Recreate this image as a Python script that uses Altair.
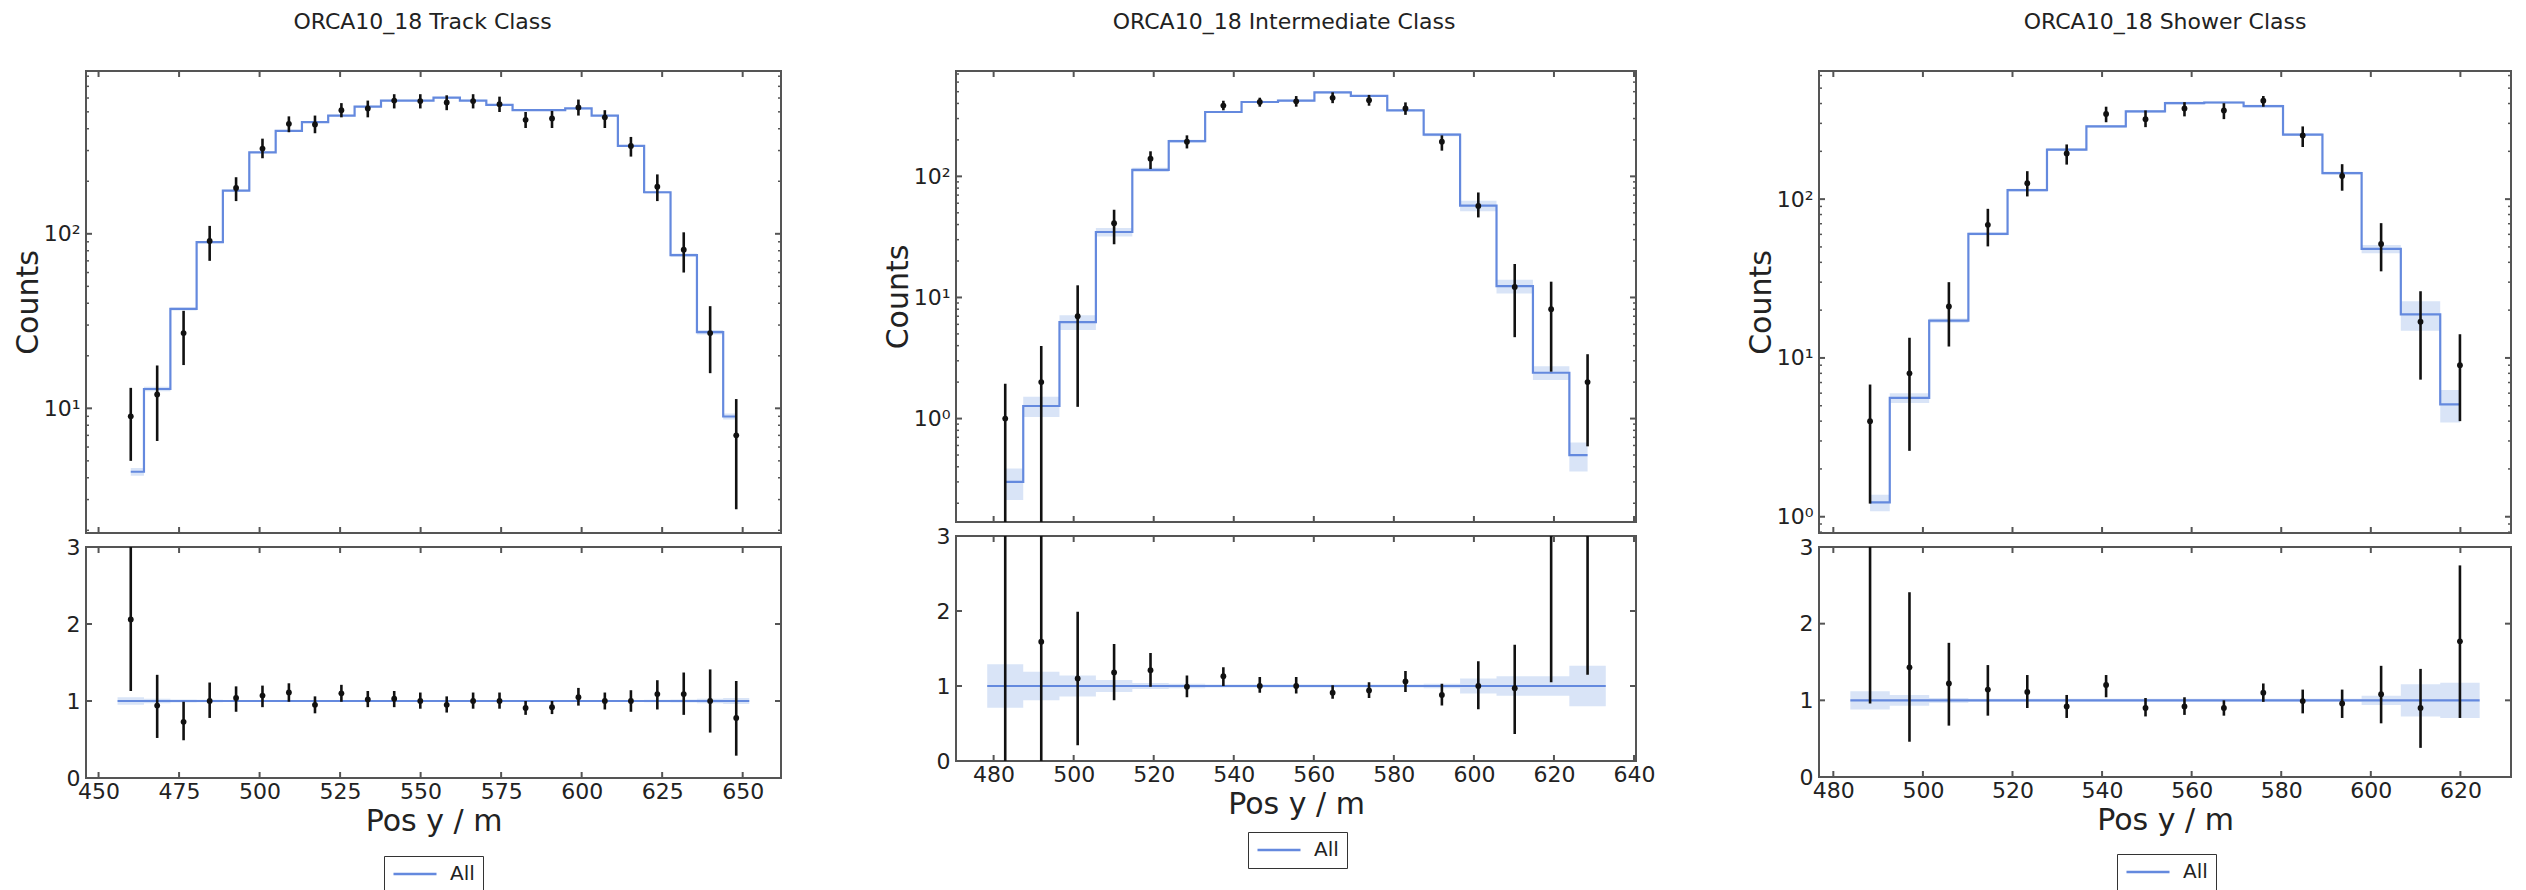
import altair as alt
import pandas as pd

FONT = "DejaVu Sans"
BLUE = "#6489de"
BAND = "#d5e1f6"
INK = "#111111"
FRAME = "#555555"
TXT = "#222222"

# ---------------- Track class ----------------
trk_title = "ORCA10_18 Track Class"
trk_x = [460.0, 468.2, 476.4, 484.5, 492.7, 500.9, 509.1, 517.2, 525.4, 533.6, 541.8, 549.9,
         558.1, 566.3, 574.5, 582.6, 590.8, 599.0, 607.2, 615.3, 623.5, 631.7, 639.9, 648.0]
trk_data = [9, 12, 27, 91, 183, 308, 427, 423, 511, 523, 580, 576,
            566, 576, 553, 450, 458, 530, 465, 319, 186, 81, 27, 7]
trk_lo = [5.0, 6.5, 17.7, 70, 154, 271, 382, 377, 465, 465, 523, 523,
          511, 523, 499, 404, 404, 476, 404, 277, 154, 60, 15.9, 2.64]
trk_hi = [13.1, 17.6, 36.2, 111, 211, 351, 471, 476, 561, 580, 631, 631,
          622, 631, 611, 499, 506, 588, 511, 359, 219, 102, 38.5, 11.3]
trk_mc = [4.33, 12.9, 37.1, 89.7, 177, 293, 389, 437, 476, 536, 580, 580,
          603, 580, 548, 511, 511, 523, 476, 319, 173, 75.5, 27.3, 8.98]
trk_rel = [0.05, 0.03, 0.02, 0.015, 0.01, 0.01, 0.01, 0.01, 0.01, 0.01, 0.01, 0.01,
           0.01, 0.01, 0.01, 0.01, 0.01, 0.01, 0.01, 0.01, 0.015, 0.02, 0.03, 0.04]
trk_ratio = [2.06, 0.94, 0.73, 1.00, 1.04, 1.07, 1.11, 0.95, 1.10, 1.02, 1.03, 1.00,
             0.95, 1.00, 1.00, 0.91, 0.92, 1.05, 1.00, 1.00, 1.09, 1.09, 1.00, 0.78]
trk_rlo = [1.13, 0.52, 0.49, 0.78, 0.86, 0.92, 0.99, 0.84, 0.99, 0.92, 0.92, 0.90,
           0.85, 0.90, 0.90, 0.82, 0.83, 0.94, 0.89, 0.86, 0.89, 0.82, 0.59, 0.29]
trk_rhi = [3.5, 1.34, 0.99, 1.24, 1.19, 1.20, 1.23, 1.06, 1.21, 1.13, 1.13, 1.11,
           1.06, 1.11, 1.11, 1.00, 1.00, 1.17, 1.11, 1.14, 1.27, 1.37, 1.41, 1.26]
trk_xdom = [446.1, 661.9]
trk_ydom = [1.93, 857]
trk_xticks = [450, 475, 500, 525, 550, 575, 600, 625, 650]
trk_yticks = [10, 100]

# ---------------- Intermediate class ----------------
int_title = "ORCA10_18 Intermediate Class"
int_x = [482.9, 491.9, 501.0, 510.1, 519.2, 528.3, 537.4, 546.5, 555.6, 564.7, 573.8,
         582.9, 592.0, 601.1, 610.2, 619.3, 628.4]
int_data = [1.0, 2.0, 7.0, 41, 140, 193, 384, 411, 416, 445, 425, 363, 193, 57, 12.2, 8.0, 2.0]
int_lo = [0.01, 0.01, 1.25, 27.5, 115, 170, 351, 376, 376, 402, 383, 322, 163, 45.8, 4.7, 2.44, 0.59]
int_hi = [1.94, 3.97, 12.6, 53, 161, 218, 421, 446, 460, 494, 470, 408, 218, 73.6, 18.9, 13.5, 3.4]
int_mc = [0.30, 1.27, 6.25, 34.7, 113, 195, 340, 411, 422, 493, 461, 351, 221, 57.3, 12.4, 2.39, 0.50]
int_rel = [0.29, 0.19, 0.14, 0.08, 0.04, 0.03, 0.02, 0.02, 0.02, 0.02, 0.02, 0.02, 0.03,
           0.10, 0.13, 0.13, 0.27]
int_ratio = [3.3, 1.59, 1.10, 1.18, 1.21, 0.99, 1.13, 1.00, 1.00, 0.91, 0.94, 1.06, 0.88,
             1.00, 0.97, 3.35, 4.0]
int_rlo = [0.0, 0.0, 0.21, 0.81, 0.99, 0.85, 1.00, 0.91, 0.90, 0.83, 0.84, 0.92, 0.74,
           0.69, 0.36, 1.05, 1.15]
int_rhi = [6.5, 4.0, 1.99, 1.56, 1.44, 1.14, 1.25, 1.12, 1.12, 1.01, 1.05, 1.20, 1.03,
           1.33, 1.55, 5.6, 6.8]
int_xdom = [470.6, 640.5]
int_ydom = [0.14, 741]
int_xticks = [480, 500, 520, 540, 560, 580, 600, 620, 640]
int_yticks = [1, 10, 100]

# ---------------- Shower class ----------------
shw_title = "ORCA10_18 Shower Class"
shw_x = [488.2, 497.0, 505.8, 514.5, 523.3, 532.1, 540.9, 549.7, 558.4, 567.2, 576.0,
         584.8, 593.6, 602.3, 611.1, 619.9]
shw_data = [4.0, 8.0, 21.1, 68.9, 126, 194, 344, 319, 372, 362, 417, 252, 140, 52.2, 16.9, 9.0]
shw_lo = [1.21, 2.6, 11.8, 50.4, 104, 165, 305, 284, 332, 319, 382, 213, 113, 35.1, 7.3, 4.0]
shw_hi = [6.8, 13.4, 30, 86.9, 150, 221, 382, 362, 408, 402, 446, 287, 166, 70.6, 26.3, 14.1]
shw_mc = [1.23, 5.6, 17.2, 60.4, 114, 205, 287, 357, 402, 406, 385, 255, 146, 48.6, 18.8, 5.1]
shw_rel = [0.12, 0.07, 0.03, 0.02, 0.02, 0.02, 0.02, 0.02, 0.02, 0.02, 0.02, 0.02, 0.02,
           0.06, 0.21, 0.23]
shw_ratio = [3.25, 1.43, 1.22, 1.14, 1.11, 0.92, 1.20, 0.90, 0.92, 0.90, 1.10, 0.99, 0.96,
             1.08, 0.90, 1.77]
shw_rlo = [0.96, 0.46, 0.67, 0.80, 0.90, 0.77, 1.04, 0.79, 0.81, 0.80, 0.98, 0.83, 0.77,
           0.70, 0.38, 0.77]
shw_rhi = [5.5, 2.41, 1.75, 1.46, 1.33, 1.07, 1.33, 1.03, 1.04, 1.00, 1.22, 1.14, 1.14,
           1.45, 1.41, 2.76]
shw_xdom = [476.8, 631.3]
shw_ydom = [0.79, 641]
shw_xticks = [480, 500, 520, 540, 560, 580, 600, 620]
shw_yticks = [1, 10, 100]

ratio_ticks = [0, 1, 2, 3]
legend_label = ["All"]

TL = 6   # major tick length (inward)
TM = 3   # minor tick length


def tick_layers(xticks, yticks, yminor, xs, ys, xax, yax, W, H):
    xt = alt.Chart(pd.DataFrame({"t": xticks}))
    yt = alt.Chart(pd.DataFrame({"t": yticks}))
    lay = [
        xt.mark_rule(color=FRAME, strokeWidth=2).encode(
            x=alt.X("t:Q", scale=xs, axis=xax), y=alt.value(0), y2=alt.value(TL)),
        xt.mark_rule(color=FRAME, strokeWidth=2).encode(
            x=alt.X("t:Q", scale=xs, axis=xax), y=alt.value(H - TL), y2=alt.value(H)),
        yt.mark_rule(color=FRAME, strokeWidth=2).encode(
            y=alt.Y("t:Q", scale=ys, axis=yax), x=alt.value(0), x2=alt.value(TL)),
        yt.mark_rule(color=FRAME, strokeWidth=2).encode(
            y=alt.Y("t:Q", scale=ys, axis=yax), x=alt.value(W - TL), x2=alt.value(W)),
    ]
    if yminor:
        mt = alt.Chart(pd.DataFrame({"t": yminor}))
        lay += [
            mt.mark_rule(color=FRAME, strokeWidth=1.5).encode(
                y=alt.Y("t:Q", scale=ys, axis=yax), x=alt.value(0), x2=alt.value(TM)),
            mt.mark_rule(color=FRAME, strokeWidth=1.5).encode(
                y=alt.Y("t:Q", scale=ys, axis=yax), x=alt.value(W - TM), x2=alt.value(W)),
        ]
    return lay


def panel(title, x, d, lo, hi, mc, rel, r, rlo, rhi, xdom, ydom, xticks, yticks,
          W, HU, HL, legx, legy, dx):
    df = pd.DataFrame({
        "x": x, "d": d, "lo": lo, "hi": hi, "mc": mc,
        "mlo": [m * (1 - e) for m, e in zip(mc, rel)],
        "mhi": [m * (1 + e) for m, e in zip(mc, rel)],
        "r": r, "rlo": rlo, "rhi": rhi,
    })
    half0 = (x[1] - x[0]) / 2
    half1 = (x[-1] - x[-2]) / 2
    edges = [x[0] - half0] + [(a + b) / 2 for a, b in zip(x[:-1], x[1:])] + [x[-1] + half1]
    edf = pd.DataFrame({
        "e": edges,
        "blo": [1 - e for e in rel] + [1 - rel[-1]],
        "bhi": [1 + e for e in rel] + [1 + rel[-1]],
    })
    ldf = pd.DataFrame({"a": [edges[0]], "b": [edges[-1]], "one": [1.0], "lab": legend_label})

    xs = alt.Scale(domain=xdom, nice=False, zero=False)
    ys = alt.Scale(type="log", domain=ydom, nice=False)
    rs = alt.Scale(domain=[0, 3], nice=False, zero=False)
    minor = [m * 10 ** k for k in range(-1, 3) for m in range(2, 10)
             if ydom[0] <= m * 10 ** k <= ydom[1]]

    base = alt.Chart(df)
    yaxis = alt.Axis(title="Counts", values=yticks, ticks=False, domain=False, grid=False,
                     labelExpr="datum.value == 1 ? '10\u2070' : datum.value == 10 ? '10\u00b9' : '10\u00b2'",
                     labelFontSize=22, titleFontSize=30, labelPadding=6, titlePadding=0,
                     titleFontWeight="normal", labelColor=TXT, titleColor=TXT)
    xn = alt.X("x:Q", scale=xs, axis=None)
    upper = alt.layer(
        base.mark_area(interpolate="step", color=BAND, opacity=0.9).encode(
            x=xn, y=alt.Y("mlo:Q", scale=ys, axis=yaxis), y2="mhi:Q"),
        base.mark_line(interpolate="step", color=BLUE, strokeWidth=2.2).encode(
            x=xn, y=alt.Y("mc:Q", scale=ys, axis=yaxis)),
        base.mark_rule(clip=True, color=INK, strokeWidth=2.6).encode(
            x=xn, y=alt.Y("lo:Q", scale=ys, axis=yaxis), y2="hi:Q"),
        base.mark_circle(clip=True, color=INK, size=34, opacity=1).encode(
            x=xn, y=alt.Y("d:Q", scale=ys, axis=yaxis)),
        *tick_layers(xticks, yticks, minor, xs, ys, None, yaxis, W, HU),
    ).properties(width=W, height=HU)

    xaxis = alt.Axis(title="Pos y / m", values=xticks, format="d", ticks=False, domain=False,
                     grid=False, labelFontSize=22, titleFontSize=30, labelPadding=3,
                     titlePadding=4, labelFlush=False, labelOverlap=False,
                     titleFontWeight="normal", labelColor=TXT, titleColor=TXT)
    raxis = alt.Axis(title=None, values=ratio_ticks, format="d", ticks=False, domain=False,
                     grid=False, labelFontSize=22, labelPadding=6, labelColor=TXT)
    xl = alt.X("x:Q", scale=xs, axis=xaxis)
    lower = alt.layer(
        alt.Chart(edf).mark_area(interpolate="step-after", color=BAND, opacity=0.9).encode(
            x=alt.X("e:Q", scale=xs, axis=xaxis),
            y=alt.Y("blo:Q", scale=rs, axis=raxis), y2="bhi:Q"),
        alt.Chart(ldf).mark_rule(strokeWidth=2.2).encode(
            x=alt.X("a:Q", scale=xs, axis=xaxis), x2="b:Q",
            y=alt.Y("one:Q", scale=rs, axis=raxis),
            color=alt.Color("lab:N", scale=alt.Scale(domain=legend_label, range=[BLUE]),
                            legend=alt.Legend(title=None, orient="none", legendX=legx,
                                              legendY=legy, symbolType="stroke",
                                              symbolSize=1850, symbolStrokeWidth=2.5,
                                              labelFontSize=20, labelFont=FONT,
                                              labelColor=TXT, strokeColor="#333333",
                                              fillColor="white", padding=8, labelOffset=12,
                                              clipHeight=20, cornerRadius=0))),
        base.mark_rule(clip=True, color=INK, strokeWidth=2.6).encode(
            x=xl, y=alt.Y("rlo:Q", scale=rs, axis=raxis), y2="rhi:Q"),
        base.mark_circle(clip=True, color=INK, size=34, opacity=1).encode(
            x=xl, y=alt.Y("r:Q", scale=rs, axis=raxis)),
        *tick_layers(xticks, ratio_ticks, [], xs, rs, xaxis, raxis, W, HL),
    ).properties(width=W, height=HL)

    return alt.vconcat(
        upper, lower, spacing=0,
        title=alt.Title(title, fontSize=22, font=FONT, fontWeight="normal", color=TXT,
                        anchor="middle", offset=35, dx=dx),
    ).resolve_scale(color="independent").resolve_legend(color="independent")


p1 = panel(trk_title, trk_x, trk_data, trk_lo, trk_hi, trk_mc, trk_rel, trk_ratio, trk_rlo,
           trk_rhi, trk_xdom, trk_ydom, trk_xticks, trk_yticks, 695, 462, 231, 298, 309, 25)
p2 = panel(int_title, int_x, int_data, int_lo, int_hi, int_mc, int_rel, int_ratio, int_rlo,
           int_rhi, int_xdom, int_ydom, int_xticks, int_yticks, 680, 451, 225, 292, 296, 15)
p3 = panel(shw_title, shw_x, shw_data, shw_lo, shw_hi, shw_mc, shw_rel, shw_ratio, shw_rlo,
           shw_rhi, shw_xdom, shw_ydom, shw_xticks, shw_yticks, 692, 462, 230, 298, 307, 36)

left_pair = alt.hconcat(p1, p2, spacing=99).resolve_scale(
    color="independent").resolve_legend(color="independent")

chart = alt.hconcat(left_pair, p3, spacing=89).resolve_scale(
    color="independent").resolve_legend(color="independent").properties(
    padding={"left": 4, "top": 3, "right": 0, "bottom": 0}, background="white"
).configure_view(stroke=FRAME, strokeWidth=2).configure_axis(
    labelFont=FONT, titleFont=FONT
)

chart.save("out.html", embed_options={"renderer": "svg", "actions": False})
